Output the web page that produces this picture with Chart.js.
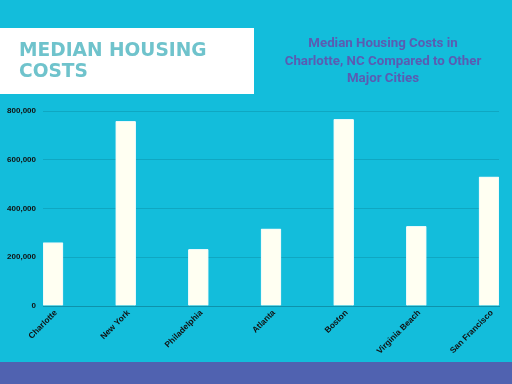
<!DOCTYPE html>
<html>
<head>
<meta charset="utf-8">
<script src="https://cdn.jsdelivr.net/npm/chart.js@4/dist/chart.umd.min.js"></script>
<style>
html,body{margin:0;padding:0;background:#13bddb;}
canvas{display:block;}
</style>
</head>
<body>
<canvas id="c" width="512" height="384"></canvas>
<script>
const categories = ["Charlotte","New York","Philadelphia","Atlanta","Boston","Virginia Beach","San Francisco"];
const medianCosts = [260000, 758000, 232000, 317000, 766000, 327000, 530000];
const yTicks = [0, 200000, 400000, 600000, 800000];
const titleLines = ["MEDIAN HOUSING", "COSTS"];
const subtitleLines = ["Median Housing Costs in", "Charlotte, NC Compared to Other", "Major Cities"];

const BG = '#13bddb';

const decor = {
  id: 'decor',
  beforeDraw(chart) {
    const ctx = chart.ctx;
    ctx.save();
    ctx.fillStyle = BG;
    ctx.fillRect(0, 0, 512, 384);
    ctx.fillStyle = '#ffffff';
    ctx.fillRect(0, 28, 254, 66);
    ctx.fillStyle = '#5062b0';
    ctx.fillRect(0, 362, 512, 22);
    ctx.fillStyle = '#6fc3cc';
    ctx.font = 'bold 18.6px "DejaVu Sans"';
    ctx.textBaseline = 'alphabetic';
    ctx.textAlign = 'left';
    ctx.fillText(titleLines[0], 19, 56);
    ctx.fillText(titleLines[1], 19, 77);
    ctx.fillStyle = '#5a5cb2';
    ctx.font = 'bold 13.3px Roboto';
    ctx.textAlign = 'center';
    ctx.textBaseline = 'middle';
    subtitleLines.forEach((s, i) => ctx.fillText(s, 383, 44 + i * 17.5));
    ctx.restore();
  }
};

new Chart(document.getElementById('c'), {
  type: 'bar',
  data: {
    datasets: [{
      data: medianCosts.map((v, i) => ({x: i, y: v})),
      backgroundColor: '#fffff2',
      borderColor: '#e8f8fb',
      borderWidth: 1,
      borderRadius: 1,
      barThickness: 20
    }]
  },
  plugins: [decor],
  options: {
    responsive: false,
    animation: false,
    events: [],
    layout: {padding: {top: 111, right: 13, left: 0, bottom: 0}},
    plugins: {legend: {display: false}, tooltip: {enabled: false}, title: {display: false}},
    scales: {
      x: {
        type: 'linear',
        offset: false,
        min: -0.1376,
        max: 6.1376,
        afterBuildTicks(scale) { scale.ticks = categories.map((_, i) => ({value: i})); },
        afterFit(scale) { scale.height = 78; },
        grid: {display: false, drawTicks: false, offset: false},
        border: {display: true, color: '#0e92ab', width: 1},
        ticks: {
          autoSkip: false,
          minRotation: 45,
          maxRotation: 45,
          padding: 2,
          labelOffset: 3,
          color: '#111111',
          font: {family: '"Liberation Sans"', size: 8.4, weight: 'bold'},
          callback: (v) => categories[v]
        }
      },
      y: {
        min: 0,
        max: 800000,
        afterBuildTicks(scale) { scale.ticks = yTicks.map(v => ({value: v})); },
        afterFit(scale) { scale.width = 43; },
        grid: {color: '#0fa7c2', lineWidth: 1, drawTicks: false},
        border: {display: false},
        ticks: {
          padding: 7,
          color: '#111111',
          font: {family: '"Liberation Sans"', size: 8, weight: 'bold'},
          callback: (v) => v.toLocaleString('en-US')
        }
      }
    }
  }
});
</script>
</body>
</html>
